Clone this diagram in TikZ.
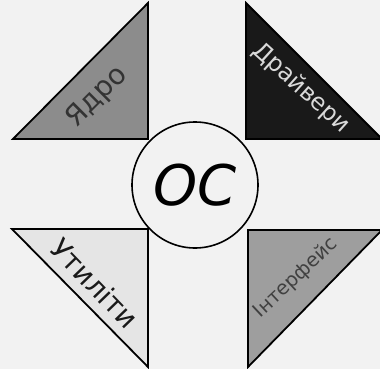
\documentclass[tikz,border=0pt]{standalone}
\usepackage{fontspec}
\setmainfont{DejaVu Sans}
\usepackage{tikz}

\begin{document}
\begin{tikzpicture}[
    x=1pt, y=-1pt,
    part/.style={draw, line width=1.8pt, line join=miter},
    lbl/.style={font=\fontsize{28}{28}\selectfont, inner sep=0pt}
]
    \fill[black!5] (0,0) rectangle (380,369);
    \useasboundingbox (0,0) rectangle (380,369);

    % four parts round the core
    \filldraw[part, fill=black!45] (13,139) -- (148,139) -- (148,3) -- cycle;
    \filldraw[part, fill=black!90] (246,3) -- (246,139) -- (382,139) -- cycle;
    \filldraw[part, fill=black!10] (12,229) -- (148,229) -- (148,367) -- cycle;
    \filldraw[part, fill=black!38] (248,230) -- (382,230) -- (248,367) -- cycle;

    \node[lbl, rotate=45, text=black!80] (kernel) at (97,97) {Ядро};
    \node[lbl, rotate=-42, text=black!15, font=\fontsize{23.5}{24}\selectfont] (drivers) at (301,88) {Драйвери};
    \node[lbl, rotate=-46, text=black!90] (utils) at (95,283) {Утиліти};
    \node[lbl, rotate=43, text=black!75, font=\fontsize{19.5}{20}\selectfont] (iface) at (296,278) {Інтерфейс};

    \node[draw, circle, line width=1.6pt, fill=black!5, minimum size=126pt, font=\fontsize{56}{56}\selectfont\itshape] (os) at (195,185) {ОС};
\end{tikzpicture}
\end{document}
